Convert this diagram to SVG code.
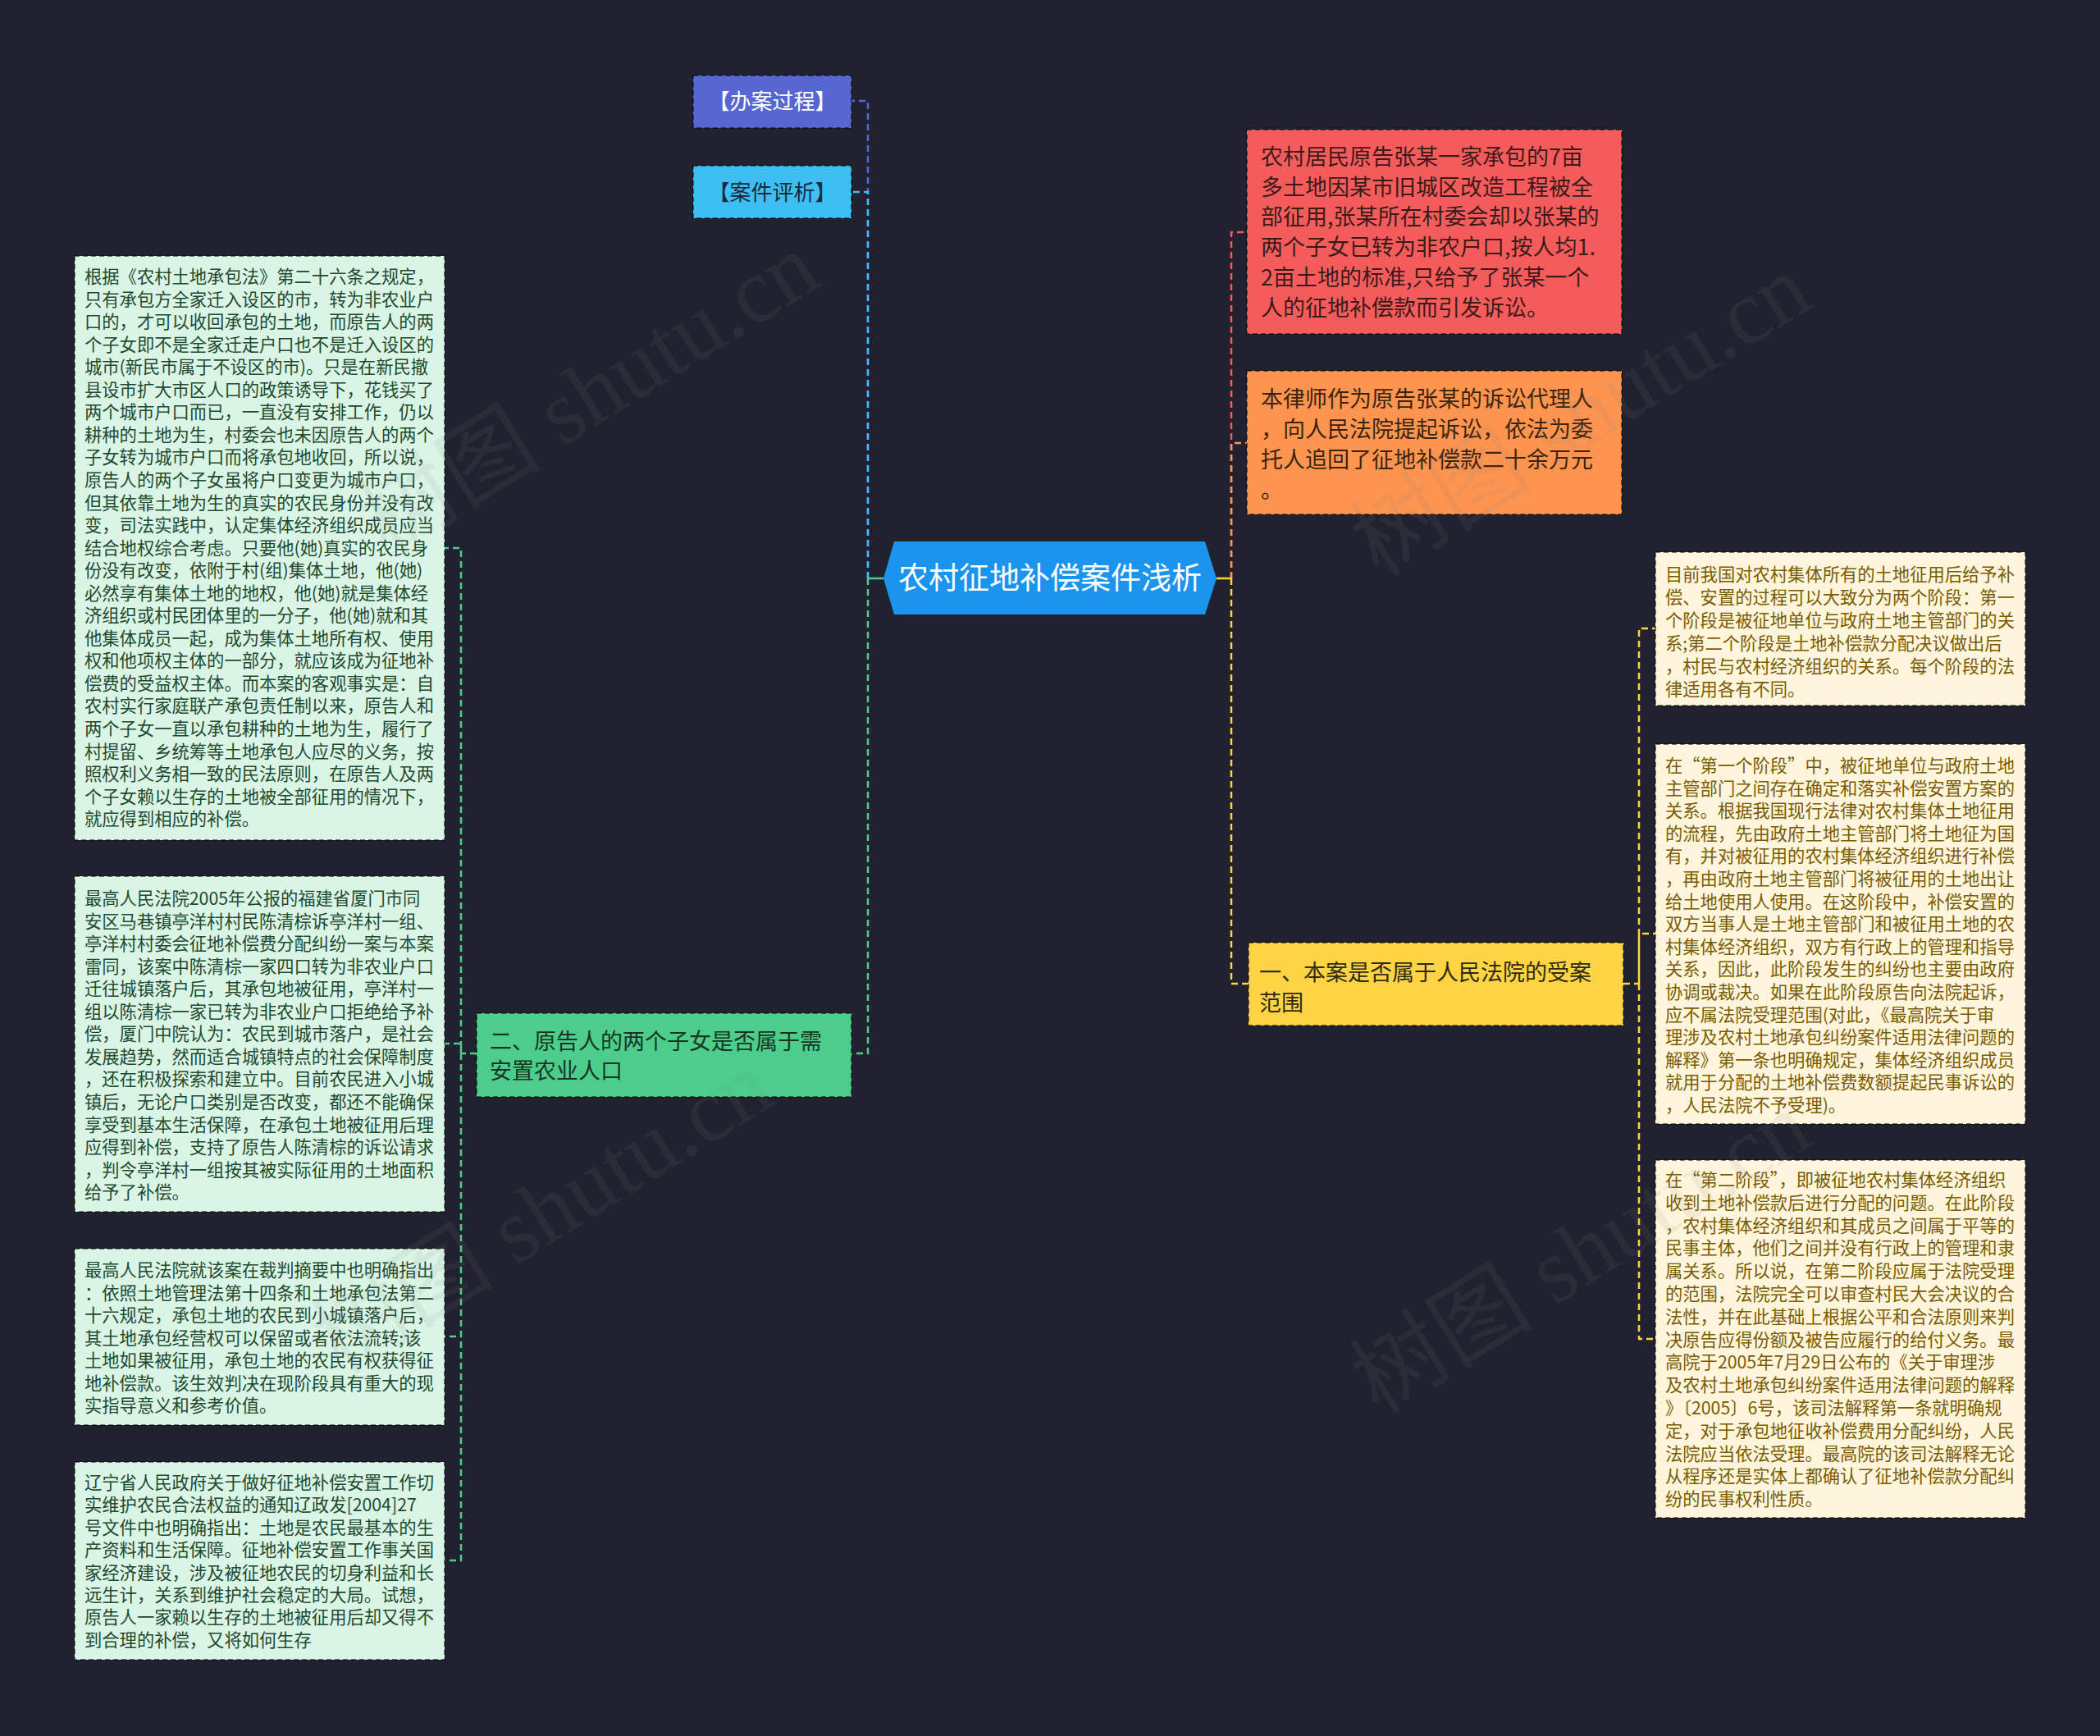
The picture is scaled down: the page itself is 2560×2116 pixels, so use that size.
<svg xmlns="http://www.w3.org/2000/svg" width="2560" height="2116" viewBox="0 0 2560 2116">
<style>
.t{font-family:"Noto Sans CJK SC","Noto Sans",sans-serif}
.s{font-size:21.3px}
.gt{fill:#1e4a2f}
.yt{fill:#7a5c00}
.m{font-size:27px}
.b{stroke:rgba(0,0,0,0.5);stroke-width:2;stroke-dasharray:6 4}
.c{fill:none;stroke-width:2.5;stroke-dasharray:8 5}
.st{fill:none;stroke-width:2.5}
.wm{font-family:"Liberation Serif","Noto Sans CJK SC",serif;font-size:112px;fill:#8a8a8a;opacity:0.1}
</style>
<rect width="2560" height="2116" fill="#20222f"/>
<g id="connectors">
<path class="c" stroke="#5667d1" d="M1058,705 V123 H1038"/>
<path class="c" stroke="#3dbff3" d="M1058,705 V234 H1038"/>
<path class="c" stroke="#4ccd8c" d="M1058,705 V1284 H1038"/>
<path class="st" stroke="#4ccd8c" d="M1077,705 H1058"/>
<path class="c" stroke="#f45c5c" d="M1501,705 V283 H1520"/>
<path class="c" stroke="#fd944f" d="M1501,705 V540 H1520"/>
<path class="c" stroke="#fed445" d="M1501,705 V1199 H1522"/>
<path class="st" stroke="#fed445" d="M1483,705 H1501"/>
<path class="c" stroke="#fed445" d="M1979,1199 H1998 V766 H2018 M1998,1199 V1138 H2018 M1998,1199 V1632 H2018"/>
<path class="c" stroke="#4ccd8c" d="M581,1284 H562 V668 H542 M562,1284 V1272 H542 M562,1284 V1629 H542 M562,1284 V1902 H542"/>
</g>
<g id="root">
<polygon points="1077,705 1090,660 1469,660 1483,705 1469,749 1090,749" fill="#1b94ee"/>
<text class="t" x="1280" y="718" font-size="37" fill="#ffffff" text-anchor="middle">农村征地补偿案件浅析</text>
</g>
<g id="n-banan">
<rect class="b" x="845" y="92" width="193" height="64" fill="#5667d1"/>
<text class="t" x="941.5" y="132.5" font-size="26" fill="#ffffff" text-anchor="middle">【办案过程】</text>
</g>
<g id="n-pingxi">
<rect class="b" x="845" y="202" width="193" height="64" fill="#3dbff3"/>
<text class="t" x="941.5" y="243.5" font-size="26" fill="#1a2a3a" text-anchor="middle">【案件评析】</text>
</g>
<g id="n-er">
<rect class="b" x="581" y="1235" width="457" height="102" fill="#4ccd8c"/>
<text class="t m" fill="#183524"><tspan x="597" y="1279">二、原告人的两个子女是否属于需</tspan><tspan x="597" y="1315">安置农业人口</tspan></text>
</g>
<g id="n-red">
<rect class="b" x="1520" y="158" width="457" height="249" fill="#f45c5c"/>
<text class="t m" fill="#3d1a1a"><tspan x="1537" y="201">农村居民原告张某一家承包的7亩</tspan><tspan x="1537" dy="36.7">多土地因某市旧城区改造工程被全</tspan><tspan x="1537" dy="36.7">部征用,张某所在村委会却以张某的</tspan><tspan x="1537" dy="36.7">两个子女已转为非农户口,按人均1.</tspan><tspan x="1537" dy="36.7">2亩土地的标准,只给予了张某一个</tspan><tspan x="1537" dy="36.7">人的征地补偿款而引发诉讼。</tspan></text>
</g>
<g id="n-orange">
<rect class="b" x="1520" y="452" width="457" height="175" fill="#fd944f"/>
<text class="t m" fill="#3a2410"><tspan x="1537" y="496">本律师作为原告张某的诉讼代理人</tspan><tspan x="1537" dy="37">，向人民法院提起诉讼，依法为委</tspan><tspan x="1537" dy="37">托人追回了征地补偿款二十余万元</tspan><tspan x="1537" dy="37">。</tspan></text>
</g>
<g id="n-yi">
<rect class="b" x="1522" y="1149" width="457" height="101" fill="#fed445"/>
<text class="t m" fill="#2e2a14"><tspan x="1535" y="1195">一、本案是否属于人民法院的受案</tspan><tspan x="1535" y="1232">范围</tspan></text>
</g>
<g id="l1">
<rect class="b" x="91" y="312" width="451" height="712" fill="#daf4e6"/>
<text class="t s gt"><tspan x="103" y="345">根据《农村土地承包法》第二十六条之规定，</tspan><tspan x="103" dy="27.55">只有承包方全家迁入设区的市，转为非农业户</tspan><tspan x="103" dy="27.55">口的，才可以收回承包的土地，而原告人的两</tspan><tspan x="103" dy="27.55">个子女即不是全家迁走户口也不是迁入设区的</tspan><tspan x="103" dy="27.55">城市(新民市属于不设区的市)。只是在新民撤</tspan><tspan x="103" dy="27.55">县设市扩大市区人口的政策诱导下，花钱买了</tspan><tspan x="103" dy="27.55">两个城市户口而已，一直没有安排工作，仍以</tspan><tspan x="103" dy="27.55">耕种的土地为生，村委会也未因原告人的两个</tspan><tspan x="103" dy="27.55">子女转为城市户口而将承包地收回，所以说，</tspan><tspan x="103" dy="27.55">原告人的两个子女虽将户口变更为城市户口，</tspan><tspan x="103" dy="27.55">但其依靠土地为生的真实的农民身份并没有改</tspan><tspan x="103" dy="27.55">变，司法实践中，认定集体经济组织成员应当</tspan><tspan x="103" dy="27.55">结合地权综合考虑。只要他(她)真实的农民身</tspan><tspan x="103" dy="27.55">份没有改变，依附于村(组)集体土地，他(她)</tspan><tspan x="103" dy="27.55">必然享有集体土地的地权，他(她)就是集体经</tspan><tspan x="103" dy="27.55">济组织或村民团体里的一分子，他(她)就和其</tspan><tspan x="103" dy="27.55">他集体成员一起，成为集体土地所有权、使用</tspan><tspan x="103" dy="27.55">权和他项权主体的一部分，就应该成为征地补</tspan><tspan x="103" dy="27.55">偿费的受益权主体。而本案的客观事实是：自</tspan><tspan x="103" dy="27.55">农村实行家庭联产承包责任制以来，原告人和</tspan><tspan x="103" dy="27.55">两个子女一直以承包耕种的土地为生，履行了</tspan><tspan x="103" dy="27.55">村提留、乡统筹等土地承包人应尽的义务，按</tspan><tspan x="103" dy="27.55">照权利义务相一致的民法原则，在原告人及两</tspan><tspan x="103" dy="27.55">个子女赖以生存的土地被全部征用的情况下，</tspan><tspan x="103" dy="27.55">就应得到相应的补偿。</tspan></text>
</g>
<g id="l2">
<rect class="b" x="91" y="1068" width="451" height="409" fill="#daf4e6"/>
<text class="t s gt"><tspan x="103" y="1103">最高人民法院2005年公报的福建省厦门市同</tspan><tspan x="103" dy="27.55">安区马巷镇亭洋村村民陈清棕诉亭洋村一组、</tspan><tspan x="103" dy="27.55">亭洋村村委会征地补偿费分配纠纷一案与本案</tspan><tspan x="103" dy="27.55">雷同，该案中陈清棕一家四口转为非农业户口</tspan><tspan x="103" dy="27.55">迁往城镇落户后，其承包地被征用，亭洋村一</tspan><tspan x="103" dy="27.55">组以陈清棕一家已转为非农业户口拒绝给予补</tspan><tspan x="103" dy="27.55">偿，厦门中院认为：农民到城市落户，是社会</tspan><tspan x="103" dy="27.55">发展趋势，然而适合城镇特点的社会保障制度</tspan><tspan x="103" dy="27.55">，还在积极探索和建立中。目前农民进入小城</tspan><tspan x="103" dy="27.55">镇后，无论户口类别是否改变，都还不能确保</tspan><tspan x="103" dy="27.55">享受到基本生活保障，在承包土地被征用后理</tspan><tspan x="103" dy="27.55">应得到补偿，支持了原告人陈清棕的诉讼请求</tspan><tspan x="103" dy="27.55">，判令亭洋村一组按其被实际征用的土地面积</tspan><tspan x="103" dy="27.55">给予了补偿。</tspan></text>
</g>
<g id="l3">
<rect class="b" x="91" y="1522" width="451" height="215" fill="#daf4e6"/>
<text class="t s gt"><tspan x="103" y="1556">最高人民法院就该案在裁判摘要中也明确指出</tspan><tspan x="103" dy="27.55">：依照土地管理法第十四条和土地承包法第二</tspan><tspan x="103" dy="27.55">十六规定，承包土地的农民到小城镇落户后，</tspan><tspan x="103" dy="27.55">其土地承包经营权可以保留或者依法流转;该</tspan><tspan x="103" dy="27.55">土地如果被征用，承包土地的农民有权获得征</tspan><tspan x="103" dy="27.55">地补偿款。该生效判决在现阶段具有重大的现</tspan><tspan x="103" dy="27.55">实指导意义和参考价值。</tspan></text>
</g>
<g id="l4">
<rect class="b" x="91" y="1782" width="451" height="241" fill="#daf4e6"/>
<text class="t s gt"><tspan x="103" y="1815">辽宁省人民政府关于做好征地补偿安置工作切</tspan><tspan x="103" dy="27.4">实维护农民合法权益的通知辽政发[2004]27</tspan><tspan x="103" dy="27.4">号文件中也明确指出：土地是农民最基本的生</tspan><tspan x="103" dy="27.4">产资料和生活保障。征地补偿安置工作事关国</tspan><tspan x="103" dy="27.4">家经济建设，涉及被征地农民的切身利益和长</tspan><tspan x="103" dy="27.4">远生计，关系到维护社会稳定的大局。试想，</tspan><tspan x="103" dy="27.4">原告人一家赖以生存的土地被征用后却又得不</tspan><tspan x="103" dy="27.4">到合理的补偿，又将如何生存</tspan></text>
</g>
<g id="r1">
<rect class="b" x="2018" y="673" width="451" height="187" fill="#fff5dc"/>
<text class="t s yt"><tspan x="2030" y="708">目前我国对农村集体所有的土地征用后给予补</tspan><tspan x="2030" dy="27.9">偿、安置的过程可以大致分为两个阶段：第一</tspan><tspan x="2030" dy="27.9">个阶段是被征地单位与政府土地主管部门的关</tspan><tspan x="2030" dy="27.9">系;第二个阶段是土地补偿款分配决议做出后</tspan><tspan x="2030" dy="27.9">，村民与农村经济组织的关系。每个阶段的法</tspan><tspan x="2030" dy="27.9">律适用各有不同。</tspan></text>
</g>
<g id="r2">
<rect class="b" x="2018" y="907" width="451" height="463" fill="#fff5dc"/>
<text class="t s yt"><tspan x="2030" y="941">在“第一个阶段”中，被征地单位与政府土地</tspan><tspan x="2030" dy="27.6">主管部门之间存在确定和落实补偿安置方案的</tspan><tspan x="2030" dy="27.6">关系。根据我国现行法律对农村集体土地征用</tspan><tspan x="2030" dy="27.6">的流程，先由政府土地主管部门将土地征为国</tspan><tspan x="2030" dy="27.6">有，并对被征用的农村集体经济组织进行补偿</tspan><tspan x="2030" dy="27.6">，再由政府土地主管部门将被征用的土地出让</tspan><tspan x="2030" dy="27.6">给土地使用人使用。在这阶段中，补偿安置的</tspan><tspan x="2030" dy="27.6">双方当事人是土地主管部门和被征用土地的农</tspan><tspan x="2030" dy="27.6">村集体经济组织，双方有行政上的管理和指导</tspan><tspan x="2030" dy="27.6">关系，因此，此阶段发生的纠纷也主要由政府</tspan><tspan x="2030" dy="27.6">协调或裁决。如果在此阶段原告向法院起诉，</tspan><tspan x="2030" dy="27.6">应不属法院受理范围(对此，《最高院关于审</tspan><tspan x="2030" dy="27.6">理涉及农村土地承包纠纷案件适用法律问题的</tspan><tspan x="2030" dy="27.6">解释》第一条也明确规定，集体经济组织成员</tspan><tspan x="2030" dy="27.6">就用于分配的土地补偿费数额提起民事诉讼的</tspan><tspan x="2030" dy="27.6">，人民法院不予受理)。</tspan></text>
</g>
<g id="r3">
<rect class="b" x="2018" y="1414" width="451" height="436" fill="#fff5dc"/>
<text class="t s yt"><tspan x="2030" y="1446">在“第二阶段”，即被征地农村集体经济组织</tspan><tspan x="2030" dy="27.8">收到土地补偿款后进行分配的问题。在此阶段</tspan><tspan x="2030" dy="27.8">，农村集体经济组织和其成员之间属于平等的</tspan><tspan x="2030" dy="27.8">民事主体，他们之间并没有行政上的管理和隶</tspan><tspan x="2030" dy="27.8">属关系。所以说，在第二阶段应属于法院受理</tspan><tspan x="2030" dy="27.8">的范围，法院完全可以审查村民大会决议的合</tspan><tspan x="2030" dy="27.8">法性，并在此基础上根据公平和合法原则来判</tspan><tspan x="2030" dy="27.8">决原告应得份额及被告应履行的给付义务。最</tspan><tspan x="2030" dy="27.8">高院于2005年7月29日公布的《关于审理涉</tspan><tspan x="2030" dy="27.8">及农村土地承包纠纷案件适用法律问题的解释</tspan><tspan x="2030" dy="27.8">》〔2005〕6号，该司法解释第一条就明确规</tspan><tspan x="2030" dy="27.8">定，对于承包地征收补偿费用分配纠纷，人民</tspan><tspan x="2030" dy="27.8">法院应当依法受理。最高院的该司法解释无论</tspan><tspan x="2030" dy="27.8">从程序还是实体上都确认了征地补偿款分配纠</tspan><tspan x="2030" dy="27.8">纷的民事权利性质。</tspan></text>
</g>
<g id="watermarks">
<text class="wm" x="718" y="518" text-anchor="middle" transform="rotate(-32 718 480)">树图 shutu.cn</text>
<text class="wm" x="1927" y="544" text-anchor="middle" transform="rotate(-32 1927 506)">树图 shutu.cn</text>
<text class="wm" x="661" y="1516" text-anchor="middle" transform="rotate(-32 661 1478)">树图 shutu.cn</text>
<text class="wm" x="1927" y="1565" text-anchor="middle" transform="rotate(-32 1927 1527)">树图 shutu.cn</text>
</g>
</svg>
